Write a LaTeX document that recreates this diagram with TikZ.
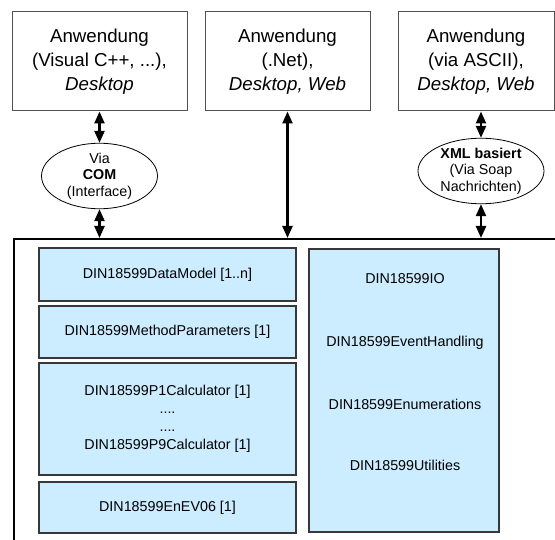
\documentclass[tikz,border=0pt]{standalone}
\usepackage{fontspec}
\setmainfont{Liberation Sans}
\usetikzlibrary{shapes.geometric,arrows.meta}
\definecolor{libblue}{RGB}{204,236,255}
\definecolor{frame}{RGB}{80,80,80}

\begin{document}
\begin{tikzpicture}[x=1pt, y=-1pt,
    app/.style={draw=frame, line width=1pt, align=center, inner sep=0pt, minimum height=99pt, font=\fontsize{18.7}{24}\selectfont},
    via/.style={ellipse, draw, line width=0.8pt, align=center, inner sep=0pt, font=\fontsize{14.3}{16.5}\selectfont},
    part/.style={draw=frame!70!black, line width=1.2pt, fill=libblue, align=center, inner sep=0pt, minimum width=257pt, font=\fontsize{14.3}{18}\selectfont},
    unit/.style={anchor=base, font=\fontsize{14.3}{18}\selectfont},
    link/.style={<->, >={Triangle[length=12pt,width=10pt]}, line width=2.3pt}]

    \useasboundingbox (0,0) rectangle (555,540);

    \node [app, minimum width=175pt] (desk) at (99.5,61.5) {Anwendung\\(Visual C++, ...),\\\textit{Desktop}};
    \node [app, minimum width=165pt] (net) at (287.5,61.5) {Anwendung\\(.Net),\\\textit{Desktop, Web}};
    \node [app, minimum width=156pt] (ascii) at (476,61.5) {Anwendung\\(via ASCII),\\\textit{Desktop, Web}};

    \node [via, minimum width=116pt, minimum height=62pt] (com) at (99.5,176) {Via\\\textbf{COM}\\(Interface)};
    \node [via, minimum width=126pt, minimum height=60pt] (xml) at (481,171) {\textbf{XML basiert}\\(Via Soap\\Nachrichten)};

    \node [draw, line width=2.3pt, anchor=north west, minimum width=600pt, minimum height=400pt] (lib) at (13,238) {};

    \node [part, minimum height=53pt] (model) at (167.5,274.5) {DIN18599DataModel [1..n]};
    \node [part, minimum height=52pt] (params) at (167.5,332) {DIN18599MethodParameters [1]};
    \node [part, minimum height=112pt] (calc) at (167.5,419) {DIN18599P1Calculator [1]\\....\\....\\DIN18599P9Calculator [1]};
    \node [part, minimum height=51pt] (enev) at (167.5,507.5) {DIN18599EnEV06 [1]};
    \node [part, minimum width=190pt, minimum height=283pt] (tools) at (404,390.5) {};

    \node [unit] (io) at (405,283.5) {DIN18599IO};
    \node [unit] (events) at (405,346.5) {DIN18599EventHandling};
    \node [unit] (enums) at (405,409.5) {DIN18599Enumerations};
    \node [unit] (utils) at (405,470.5) {DIN18599Utilities};


    \draw[link] (desk) -- (com);
    \draw[link] (com) -- (com |- lib.north);
    \draw[link] (net) -- (net |- lib.north);
    \draw[link] (xml.north |- ascii.south) -- (xml);
    \draw[link] (xml) -- (xml |- lib.north);

\end{tikzpicture}
\end{document}
